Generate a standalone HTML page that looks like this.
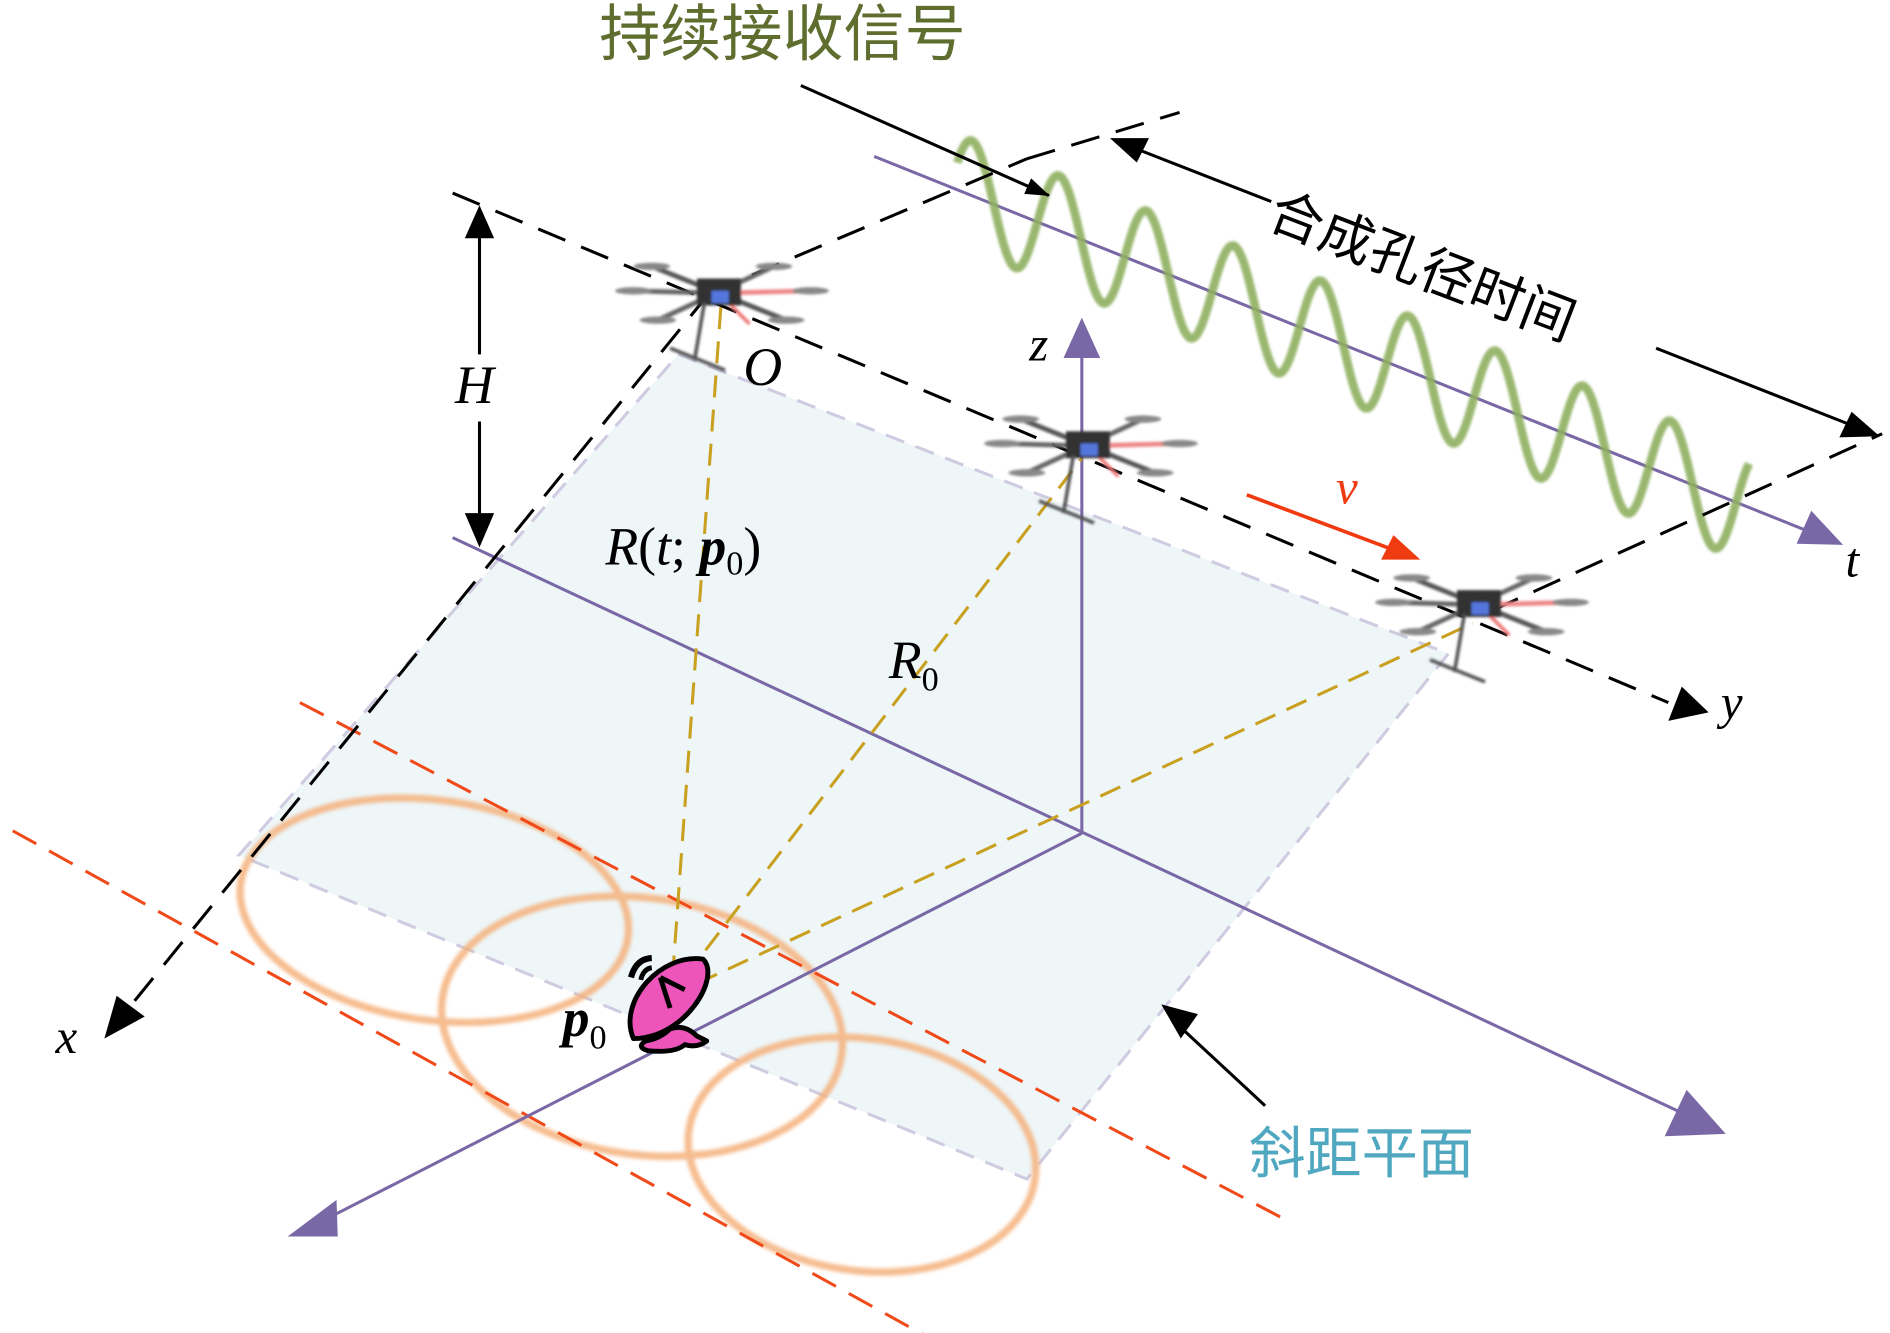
<!DOCTYPE html>
<html><head><meta charset="utf-8">
<style>html,body{margin:0;padding:0;background:#fff;}svg{display:block}
text{font-family:"Liberation Serif","Noto Serif CJK SC",serif;}
.cjk{font-family:"Liberation Sans","Noto Sans CJK SC",sans-serif;}
</style></head><body>
<svg width="1890" height="1333" viewBox="0 0 1546 1091" xmlns="http://www.w3.org/2000/svg">
<defs>
<marker id="ab" markerWidth="20" markerHeight="14" refX="19" refY="7" orient="auto" markerUnits="userSpaceOnUse" viewBox="0 0 20 14"><path d="M0,0 L20,7 L0,14z" fill="#000"/></marker>
<filter id="bl"><feGaussianBlur stdDeviation="1.6"/></filter>
<filter id="bl2"><feGaussianBlur stdDeviation="1"/></filter>
<g id="drone" filter="url(#bl2)">
<line x1="-70" y1="-2" x2="0" y2="0" stroke="#666" stroke-width="4"/>
<line x1="0" y1="0" x2="75" y2="-2" stroke="#e88" stroke-width="4"/>
<line x1="-55" y1="-22" x2="55" y2="22" stroke="#555" stroke-width="4"/>
<line x1="-50" y1="22" x2="45" y2="-22" stroke="#666" stroke-width="4"/>
<line x1="0" y1="0" x2="25" y2="25" stroke="#e77" stroke-width="3"/>
<rect x="-18" y="-12" width="36" height="22" fill="#333"/>
<rect x="-6" y="-2" width="14" height="10" fill="#5577dd"/>
<ellipse cx="-70" cy="-2" rx="15" ry="3" fill="#888"/>
<ellipse cx="75" cy="-2" rx="15" ry="3" fill="#888"/>
<ellipse cx="-55" cy="-22" rx="15" ry="3" fill="#888"/>
<ellipse cx="55" cy="22" rx="15" ry="3" fill="#888"/>
<ellipse cx="-50" cy="22" rx="15" ry="3" fill="#888"/>
<ellipse cx="45" cy="-22" rx="15" ry="3" fill="#888"/>
<line x1="-12" y1="8" x2="-20" y2="55" stroke="#555" stroke-width="3"/>
<line x1="-40" y1="45" x2="5" y2="63" stroke="#555" stroke-width="3"/>
</g>
</defs>
<polygon points="555,290 1185,535 840,965 195,700" fill="#eef6f8" stroke="#cfcbe0" stroke-width="2.5" stroke-dasharray="16,10"/>
<g fill="none" stroke="#f4b07a" stroke-width="6" filter="url(#bl)" opacity="0.85">
<ellipse cx="355" cy="745" rx="160" ry="90" transform="rotate(8 355 745)"/>
<ellipse cx="525" cy="840" rx="165" ry="105" transform="rotate(8 525 840)"/>
<ellipse cx="705" cy="945" rx="143" ry="95" transform="rotate(8 705 945)"/>
</g>
<g stroke="#f04a1a" stroke-width="2.5" stroke-dasharray="22,12" fill="none">
<line x1="245" y1="575" x2="1055" y2="1000"/>
<line x1="10" y1="680" x2="760" y2="1095"/>
</g>
<g stroke="#7a68a6" stroke-width="2.5" fill="#7a68a6">
<line x1="370" y1="440" x2="1385" y2="915"/>
<polygon points="1412,928 1362,930 1380,892" stroke="none"/>
<line x1="885" y1="682" x2="885" y2="285"/>
<polygon points="885,260 870,293 900,293" stroke="none"/>
<line x1="885" y1="682" x2="262" y2="1000"/>
<polygon points="235,1012 275,982 276,1012" stroke="none"/>
<line x1="715" y1="128" x2="1485" y2="437"/>
<polygon points="1508,446 1470,445 1482,418" stroke="none"/>
</g>
<path id="wave" fill="none" stroke="#8fb060" stroke-width="7" filter="url(#bl2)" opacity="0.9"/>
<g stroke="#c9a020" stroke-width="2.5" stroke-dasharray="18,10">
<line x1="550" y1="800" x2="590" y2="245"/>
<line x1="560" y1="800" x2="885" y2="375"/>
<line x1="570" y1="805" x2="1205" y2="510"/>
</g>
<g stroke="#000" stroke-width="2.5" stroke-dasharray="24,14" fill="none">
<line x1="370" y1="158" x2="1365" y2="575"/>
<line x1="580" y1="240" x2="840" y2="130"/>
<line x1="840" y1="130" x2="965" y2="92"/>
<line x1="1220" y1="500" x2="1540" y2="355"/>
<line x1="580" y1="240" x2="105" y2="825"/>
</g>
<polygon points="1398,583 1365,590 1376,562" fill="#000"/>
<polygon points="85,850 95,815 118,832" fill="#000"/>
<g stroke="#000" stroke-width="2.5">
<line x1="655" y1="70" x2="858" y2="160" marker-end="url(#ab)"/>
<line x1="392" y1="190" x2="392" y2="290"/>
<line x1="392" y1="345" x2="392" y2="430"/>
<polygon points="392,168 380,195 404,195" fill="#000" stroke="none"/>
<polygon points="392,448 380,420 404,420" fill="#000" stroke="none"/>
<line x1="930" y1="122" x2="1040" y2="165"/>
<line x1="1355" y1="285" x2="1520" y2="350"/>
<polygon points="908,113 940,113 930,133" fill="#000" stroke="none"/>
<polygon points="1538,357 1505,358 1515,337" fill="#000" stroke="none"/>
<line x1="1035" y1="905" x2="965" y2="840"/>
<polygon points="950,822 980,830 966,850" fill="#000" stroke="none"/>
</g>
<line x1="1020" y1="405" x2="1140" y2="450" stroke="#f03a10" stroke-width="3"/>
<polygon points="1162,458 1130,458 1140,438" fill="#f03a10"/>
<use href="#drone" x="588" y="240"/>
<use href="#drone" x="890" y="365"/>
<use href="#drone" x="1210" y="495"/>
<g stroke="#000" stroke-width="4" stroke-linejoin="round">
<path d="M548,842 Q560,838 570,848 L578,852 Q570,858 560,855 Q552,862 530,860 Q520,857 528,852 Q540,850 548,842z" fill="#ee55bb"/>
<path d="M518,850 C505,820 540,780 575,785 C590,800 560,850 518,850z" fill="#ee55bb"/>
<line x1="540" y1="800" x2="560" y2="810"/>
<line x1="540" y1="800" x2="548" y2="825"/>
<path d="M516,800 Q520,785 533,784" fill="none" stroke-width="5"/>
<path d="M524,802 Q526,793 533,792" fill="none" stroke-width="4"/>
</g>
<text x="490" y="45" class="cjk" font-size="50" fill="#5f6d2e">持续接收信号</text>
<text transform="translate(1035,185) rotate(21)" class="cjk" font-size="44" fill="#000">合成孔径时间</text>
<text x="1022" y="960" class="cjk" font-size="46" fill="#4fa8c0">斜距平面</text>
<text x="372" y="330" font-size="44" font-style="italic">H</text>
<text x="608" y="315" font-size="44" font-style="italic">O</text>
<text x="495" y="462" font-size="44"><tspan font-style="italic">R</tspan>(<tspan font-style="italic">t</tspan>; <tspan font-weight="bold" font-style="italic">p</tspan><tspan font-size="28" dy="8">0</tspan><tspan dy="-8">)</tspan></text>
<text x="727" y="555" font-size="44" font-style="italic">R<tspan font-size="28" font-style="normal" dy="10">0</tspan></text>
<text x="842" y="295" font-size="40" font-style="italic">z</text>
<text x="1093" y="412" font-size="40" font-style="italic" fill="#f03a10">v</text>
<text x="1510" y="472" font-size="40" font-style="italic">t</text>
<text x="1408" y="588" font-size="40" font-style="italic">y</text>
<text x="45" y="862" font-size="40" font-style="italic">x</text>
<text x="460" y="848" font-size="44" font-style="italic" font-weight="bold">p<tspan font-size="28" font-weight="normal" font-style="normal" dy="10">0</tspan></text>
</svg>
<script>
var d="";for(var x=783;x<=1432;x+=2){var y=128+0.401*(x-715)-45*Math.cos(2*Math.PI*(x-795)/71.5);d+=(d?"L":"M")+x+","+y.toFixed(1);}
document.getElementById("wave").setAttribute("d",d);
</script>
</body></html>
